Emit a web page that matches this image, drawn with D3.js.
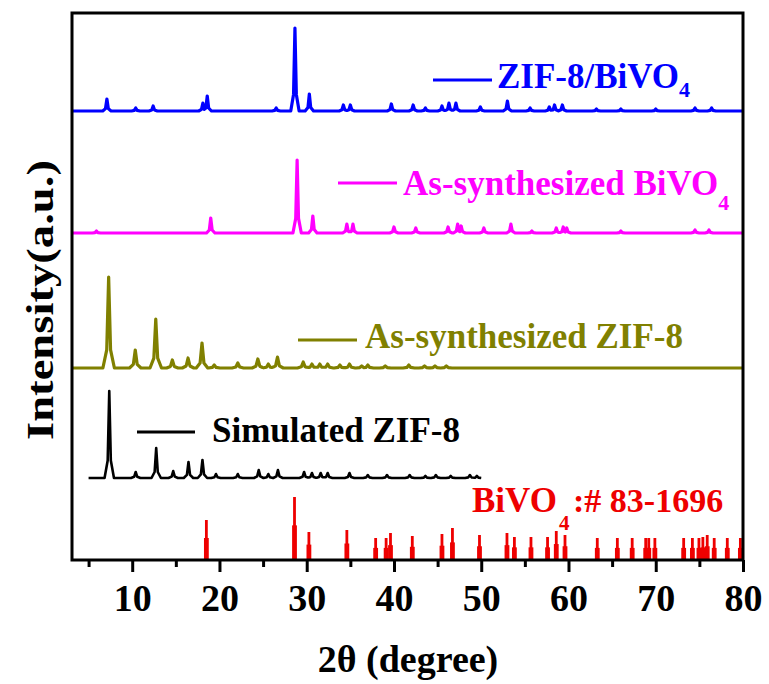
<!DOCTYPE html>
<html>
<head>
<meta charset="utf-8">
<script src="https://cdn.jsdelivr.net/npm/d3@7"></script>
<style>
  html, body { margin: 0; padding: 0; background: #fff; }
  svg { display: block; }
  text { font-family: "Liberation Serif", "Times New Roman", serif; font-weight: bold; }
</style>
</head>
<body>
<div id="chart"></div>
<script>
// ---------------- data ----------------
const seriesNames = ["ZIF-8/BiVO4", "As-synthesized BiVO4", "As-synthesized ZIF-8", "Simulated ZIF-8"];
const seriesColors = ["#0000ff", "#ff00ff", "#808000", "#000000"];
const seriesOffsets = [449, 327, 192, 82];           // vertical stacking offsets (a.u.)
const seriesRanges = [[3.1, 80], [3.1, 80], [3.1, 80], [5, 50]];

// [2θ, intensity] peaks
const bluePeaks = [[7.1, 12], [10.4, 3], [12.4, 5], [18.1, 8], [18.6, 15], [26.5, 3], [28.65, 83], [30.3, 17],
  [34.2, 6], [35.0, 6], [39.7, 7], [42.2, 6], [43.6, 3], [45.5, 5], [46.3, 8], [47.1, 8], [49.9, 4], [53.0, 10],
  [55.6, 3], [57.8, 4], [58.4, 6], [59.3, 6], [63.2, 2], [66.0, 2], [70.0, 2], [74.5, 3], [76.4, 3]];
const pinkPeaks = [[5.9, 2], [19.0, 15], [28.9, 73], [30.7, 17], [34.6, 9], [35.3, 9], [40.0, 6], [42.5, 5], [46.2, 6],
  [47.3, 9], [47.7, 7], [50.3, 5], [53.4, 9], [55.8, 2], [58.6, 5], [59.4, 6], [59.8, 5], [66.0, 2], [74.5, 3], [76.1, 3]];
const olivePeaks = [[7.3, 91], [10.35, 18], [12.7, 49], [14.6, 8], [16.4, 10], [18.0, 25], [19.4, 3], [22.1, 5],
  [24.4, 9], [25.6, 4], [26.65, 11], [29.6, 6], [30.6, 4], [31.5, 4], [32.4, 4], [33.8, 3], [34.9, 4], [36.3, 2],
  [37.0, 3], [39.0, 2], [41.7, 3], [43.5, 2], [44.7, 2], [46.0, 2]];
const blackPeaks = [[7.37, 87], [10.4, 6], [12.75, 30], [14.7, 7], [16.45, 16], [18.05, 18], [19.6, 4], [22.1, 4],
  [24.5, 8], [25.6, 4], [26.7, 8], [29.7, 6], [30.6, 5], [31.6, 5], [32.4, 5], [34.9, 5], [37.0, 3], [39.2, 3],
  [41.8, 3], [43.6, 2], [44.8, 3], [46.5, 2], [48.7, 3], [49.5, 2]];
const seriesPeaks = [bluePeaks, pinkPeaks, olivePeaks, blackPeaks];

// reference card BiVO4 # 83-1696 : [2θ, intensity]
const refPositions = [18.5, 28.6, 30.25, 34.6, 37.9, 39.1, 39.6, 42.1, 45.5, 46.7, 49.8, 52.95, 53.8, 55.7, 57.6,
  58.6, 59.6, 63.3, 65.6, 67.3, 68.85, 69.2, 69.9, 73.2, 74.2, 74.95, 75.4, 75.9, 76.7, 78.2, 79.7];
const refIntensities = [40, 63, 28, 30, 22, 22, 27, 24, 26, 32, 25, 27, 23, 23, 23,
  29, 25, 22, 22, 22, 22, 22, 22, 22, 22, 22, 23, 25, 22, 22, 22];

const xMajorTicks = [10, 20, 30, 40, 50, 60, 70, 80];
const xMinorTicks = [5, 15, 25, 35, 45, 55, 65, 75];
const xTitle = "2θ (degree)";
const yTitle = "Intensity(a.u.)";

// ---------------- layout ----------------
const W = 769, H = 684;
const L = 72, R = 743, T = 13, B = 560;
const svg = d3.select("#chart").append("svg").attr("width", W).attr("height", H);

const x = d3.scaleLinear().domain([3.1, 80]).range([L, R]);
const y = d3.scaleLinear().domain([0, B - T]).range([B, T]);

// peak profile (shape only): half-width w in degrees
const peakW = [0.16, 0.16, 0.22, 0.18];
function profile(peaks, w, lo, hi) {
  let xs = [lo, hi];
  peaks.forEach(([p]) => { [-3, -1, 0, 1, 3].forEach(k => xs.push(p + k * w)); });
  xs = xs.filter(v => v >= lo && v <= hi).sort((a, b) => a - b);
  return xs.map(v => {
    let m = 0;
    peaks.forEach(([p, h]) => {
      const u = Math.abs(v - p) / w;
      let s = 0;
      if (u <= 1) s = 1 - 0.8 * u;
      else if (u <= 3) s = 0.2 * (3 - u) / 2;
      m = Math.max(m, h * s);
    });
    return [v, m];
  });
}

const line = d3.line().x(d => x(d[0])).y(d => y(d[1]));

seriesPeaks.forEach((pk, i) => {
  const pts = profile(pk, peakW[i], seriesRanges[i][0], seriesRanges[i][1]).map(d => [d[0], d[1] + seriesOffsets[i]]);
  svg.append("path")
    .attr("d", line(pts))
    .attr("fill", "none")
    .attr("stroke", seriesColors[i])
    .attr("stroke-width", i === 3 ? 2.6 : 3.2)
    .attr("stroke-linejoin", "round");
});

// reference sticks
const sticks = svg.append("g").attr("fill", "#ee0000");
refPositions.forEach((p, i) => {
  const h = refIntensities[i];
  sticks.append("rect").attr("x", x(p) - 1.4).attr("width", 2.8).attr("y", y(h)).attr("height", y(0) - y(h));
  sticks.append("rect").attr("x", x(p) - 2.4).attr("width", 4.8).attr("y", y(h * 0.55)).attr("height", y(0) - y(h * 0.55));
});

// frame
svg.append("rect").attr("x", L).attr("y", T).attr("width", R - L).attr("height", B - T)
  .attr("fill", "none").attr("stroke", "#000").attr("stroke-width", 3);

// axis
const axMajor = d3.axisBottom(x).tickValues(xMajorTicks).tickSize(12).tickSizeOuter(0).tickFormat(d3.format("d"));
const gMaj = svg.append("g").attr("transform", `translate(0,${B})`).call(axMajor);
gMaj.select(".domain").remove();
gMaj.selectAll("line").attr("stroke", "#000").attr("stroke-width", 3);
gMaj.selectAll("text").attr("y", 51).attr("dy", 0).attr("font-size", 38).attr("fill", "#000")
  .style("font-family", '"Liberation Serif", "Times New Roman", serif').style("font-weight", "bold");

const axMinor = d3.axisBottom(x).tickValues(xMinorTicks).tickSize(7).tickSizeOuter(0).tickFormat("");
const gMin = svg.append("g").attr("transform", `translate(0,${B})`).call(axMinor);
gMin.select(".domain").remove();
gMin.selectAll("line").attr("stroke", "#000").attr("stroke-width", 3);

// titles
svg.append("text").attr("x", 408).attr("y", 672).attr("text-anchor", "middle").attr("font-size", 38).text(xTitle);
svg.append("text").attr("transform", "translate(53,300) rotate(-90)").attr("text-anchor", "middle")
  .attr("font-size", 37).attr("textLength", 280).attr("lengthAdjust", "spacingAndGlyphs").text(yTitle);

// legends
const legendLines = [[433, 492, 80], [338, 397, 183], [298, 357, 340], [137, 195, 432]];
const legendText = [[497, 88, 9], [403, 195, 15], [365, 348, 0], [212, 442, 0]];
const legendLabels = [["ZIF-8/BiVO", "4"], ["As-synthesized BiVO", "4"], ["As-synthesized ZIF-8", null], ["Simulated ZIF-8", null]];
seriesNames.forEach((n, i) => {
  const [x1, x2, yy] = legendLines[i];
  svg.append("line").attr("x1", x1).attr("x2", x2).attr("y1", yy).attr("y2", yy)
    .attr("stroke", seriesColors[i]).attr("stroke-width", 3.2);
  const [tx, ty, sd] = legendText[i];
  const t = svg.append("text").attr("x", tx).attr("y", ty).attr("font-size", 35).attr("fill", seriesColors[i]);
  t.append("tspan").text(legendLabels[i][0]);
  if (legendLabels[i][1]) t.append("tspan").attr("dy", sd).attr("font-size", 22).text(legendLabels[i][1]);
});

// reference label
svg.append("text").attr("x", 472).attr("y", 512).attr("font-size", 35).attr("fill", "#ee0000").text("BiVO");
svg.append("text").attr("x", 559).attr("y", 530).attr("font-size", 21).attr("fill", "#ee0000").text("4");
svg.append("text").attr("x", 573).attr("y", 512).attr("font-size", 34).attr("fill", "#ee0000").text(":# 83-1696");
</script>
</body>
</html>
